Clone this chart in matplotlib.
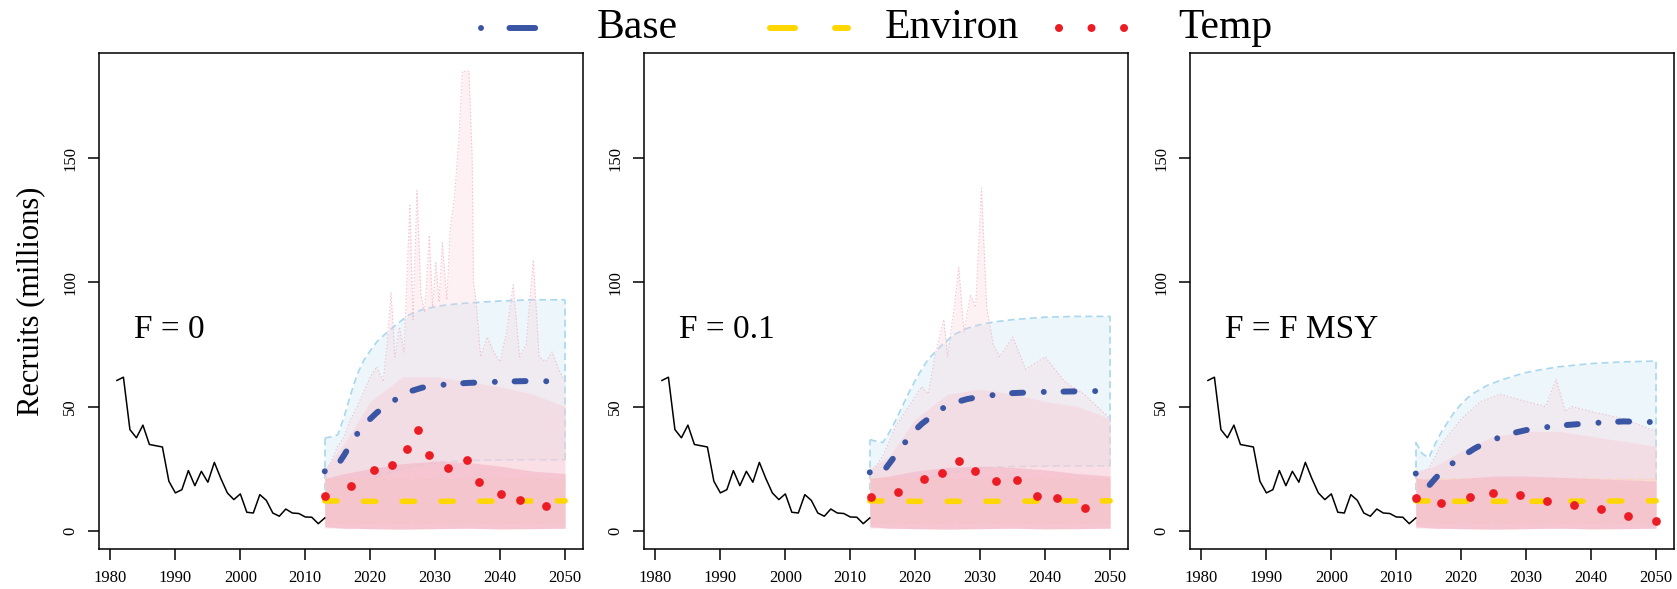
import matplotlib.pyplot as plt
from matplotlib.lines import Line2D

plt.rcParams['font.family'] = ['Liberation Serif', 'DejaVu Serif']
plt.rcParams['lines.scale_dashes'] = False

# --- historic recruitment (millions) ---
hist_years = list(range(1981, 2014))
hist_recruits = [60.5, 61.8, 40.7, 37.4, 42.5, 34.7, 34.2, 33.7, 19.9, 15.2,
                 16.5, 24.2, 18.1, 23.9, 19.5, 27.5, 21.0, 15.2, 12.5, 14.8,
                 7.4, 7.1, 14.5, 12.2, 7.1, 5.8, 8.7, 7.1, 6.9, 5.5,
                 5.4, 2.8, 5.1]

panel_labels = ["F = 0", "F = 0.1", "F = F MSY"]

# --- Base projection (mean and upper/lower band) ---
base_years = [2013, 2014, 2015, 2016, 2017, 2018, 2019, 2020, 2021, 2022,
              2024, 2026, 2028, 2030, 2032, 2035, 2040, 2045, 2050]
base_mean_f0 = [23.9, 24.5, 26.5, 30.5, 35.0, 39.0, 42.5, 45.0, 47.5, 49.5,
                53.0, 56.0, 57.6, 58.4, 59.0, 59.5, 60.0, 60.3, 60.0]
base_mean_f01 = [23.5, 22.5, 23.5, 27.0, 30.5, 34.0, 37.5, 40.5, 43.0, 45.0,
                 49.0, 51.5, 53.0, 54.0, 54.6, 55.4, 55.9, 56.1, 56.3]
base_mean_fmsy = [23.0, 19.5, 18.0, 21.0, 23.8, 26.0, 27.7, 29.5, 31.3, 33.0,
                  35.8, 37.6, 39.3, 40.5, 41.3, 42.3, 43.3, 44.0, 43.7]
base_hi_f0 = [37.3, 37.8, 38.6, 46.0, 55.0, 63.0, 68.5, 72.5, 76.0, 78.5,
              83.0, 87.0, 89.0, 90.2, 91.0, 91.7, 92.5, 93.0, 93.0]
base_hi_f01 = [36.7, 36.0, 35.5, 39.5, 44.5, 50.0, 55.5, 60.5, 65.0, 69.0,
               74.5, 79.0, 81.5, 83.0, 84.0, 85.0, 86.0, 86.3, 86.3]
base_hi_fmsy = [35.6, 31.0, 29.3, 35.0, 40.0, 44.0, 48.0, 51.0, 53.5, 55.5,
                58.5, 60.5, 62.2, 63.7, 64.7, 66.0, 67.3, 68.0, 68.3]
base_lo_f0 = [12.0, 12.5, 13.5, 15.0, 16.5, 18.0, 19.5, 20.5, 21.5, 22.5,
              24.0, 25.5, 26.5, 27.3, 27.8, 28.2, 28.5, 28.6, 28.5]
base_lo_f01 = [12.0, 12.0, 12.5, 14.0, 15.5, 17.0, 18.0, 19.0, 20.0, 21.0,
               22.5, 23.5, 24.5, 25.0, 25.5, 25.8, 26.0, 26.1, 26.1]
base_lo_fmsy = [12.0, 11.0, 10.5, 11.5, 12.5, 13.5, 14.5, 15.0, 15.8, 16.5,
                17.5, 18.2, 18.8, 19.2, 19.5, 19.8, 20.0, 20.2, 20.2]

# --- Environ projection ---
env_years = [2013, 2020, 2030, 2040, 2050]
env_mean = [12.0, 11.8, 11.8, 11.9, 12.0]
env_lo = [3.0, 3.2, 3.1, 3.0, 3.1]
env_hi = [20.6, 20.8, 20.5, 20.7, 20.6]

# --- Temp projection: mean (dots) ---
temp_years_f0 = [2013.1, 2017.0, 2020.6, 2023.3, 2025.6, 2027.3, 2029.0,
                 2031.9, 2034.9, 2036.7, 2040.2, 2043.0, 2047.1]
temp_mean_f0 = [13.8, 17.9, 24.6, 26.6, 32.9, 40.7, 30.6, 25.3, 28.6, 19.4,
                14.6, 12.5, 9.8]
temp_years_f01 = [2013.2, 2017.3, 2021.4, 2024.1, 2026.8, 2029.2, 2032.5,
                  2035.6, 2038.7, 2041.9, 2046.2]
temp_mean_f01 = [13.6, 15.5, 20.8, 23.2, 28.0, 24.2, 19.9, 20.2, 14.1, 13.2,
                 9.0]
temp_years_fmsy = [2013.1, 2016.9, 2021.3, 2024.9, 2029.0, 2033.2, 2037.3,
                   2041.5, 2045.7, 2050.0]
temp_mean_fmsy = [13.2, 11.2, 13.4, 15.2, 14.2, 12.1, 10.2, 8.9, 6.0, 4.0]

# --- Temp band: dense core and paler middle part ---
core_years = [2013, 2016, 2020, 2025, 2030, 2035, 2040, 2045, 2050]
core_lo = [1.5, 1.0, 0.8, 0.6, 0.8, 1.0, 0.7, 0.8, 1.0]
core_hi_f0 = [21.0, 23.0, 25.0, 27.0, 28.0, 27.5, 26.0, 24.0, 23.0]
core_hi_f01 = [21.0, 22.0, 24.0, 25.5, 26.0, 25.5, 24.5, 23.0, 22.0]
core_hi_fmsy = [21.0, 20.5, 21.0, 22.0, 22.0, 21.5, 21.0, 20.5, 20.0]
mid_hi_f0 = [25.0, 35.0, 52.0, 62.0, 62.0, 60.0, 58.0, 55.0, 50.0]
mid_hi_f01 = [25.0, 30.0, 45.0, 55.0, 57.0, 55.0, 52.0, 50.0, 45.0]
mid_hi_fmsy = [24.0, 26.0, 32.0, 38.0, 40.0, 40.0, 38.0, 36.0, 34.0]

# --- Temp simulations envelope (spiky) ---
spike_years_f0 = [2013, 2014, 2015, 2016, 2017, 2018, 2019, 2020, 2021, 2022,
                  2022.6, 2023.2, 2023.8, 2024.5, 2025.2, 2026.1, 2026.6,
                  2027.2, 2027.8, 2028.4, 2029.1, 2029.6, 2030.1, 2030.6,
                  2031.1, 2031.8, 2032.3, 2033.0, 2033.7, 2034.2, 2035.2,
                  2035.7, 2035.9, 2036.3, 2037, 2038, 2039, 2040, 2041, 2042,
                  2043, 2044, 2045.1, 2046, 2047, 2048, 2049, 2050]
spike_vals_f0 = [22, 28, 34, 38, 45, 50, 56, 62, 66, 60,
                 75, 96, 70, 82, 72, 131, 85,
                 137, 95, 88, 119, 90, 108, 92,
                 116, 93, 121, 135, 160, 185, 185,
                 150, 100, 92, 70, 78, 72, 68, 80, 99,
                 70, 75, 109, 70, 68, 72, 65, 60]
spike_years_f01 = [2013, 2015, 2017, 2019, 2021, 2022, 2023, 2024.4, 2025,
                   2026, 2026.7, 2027.5, 2028.5, 2029.3, 2030.2, 2031, 2032,
                   2033, 2035, 2037, 2040, 2043, 2046, 2050]
spike_vals_f01 = [22, 30, 42, 50, 58, 55, 70, 85, 70, 90, 106, 80, 95, 90,
                  138, 90, 75, 70, 78, 65, 70, 60, 55, 45]
spike_years_fmsy = [2013, 2015, 2017, 2020, 2023, 2026, 2030, 2033, 2034.6,
                    2036, 2037, 2040, 2045, 2050]
spike_vals_fmsy = [22, 25, 35, 45, 52, 55, 52, 50, 61, 48, 50, 48, 45, 40]

panels = [
    (base_mean_f0, base_hi_f0, base_lo_f0, temp_years_f0, temp_mean_f0,
     core_hi_f0, mid_hi_f0, spike_years_f0, spike_vals_f0),
    (base_mean_f01, base_hi_f01, base_lo_f01, temp_years_f01, temp_mean_f01,
     core_hi_f01, mid_hi_f01, spike_years_f01, spike_vals_f01),
    (base_mean_fmsy, base_hi_fmsy, base_lo_fmsy, temp_years_fmsy,
     temp_mean_fmsy, core_hi_fmsy, mid_hi_fmsy, spike_years_fmsy,
     spike_vals_fmsy),
]

# colours
base_col = '#3A55A4'
env_col = '#FFD700'
temp_col = '#EC1C24'
base_dash = (0, (0.01, 14.2, 7.9, 14.9))
env_dash = (0, (8.8, 19.1))

W, H = 1677, 589
fig = plt.figure(figsize=(W / 100, H / 100), dpi=100)
lefts = [99, 644, 1190]
axw = 484

for i, (bm, bh, bl, ty, tm, ch, mh, sy, sv) in enumerate(panels):
    ax = fig.add_axes([lefts[i] / W, 1 - 549 / H, axw / W, 496 / H])

    # Base band
    ax.fill_between(base_years, bl, bh, color='#ECF6FB', lw=0, zorder=1)
    ax.plot(base_years, bh, color='#A9D7EE', lw=1.2, ls=(0, (5, 3)), zorder=1.1)
    ax.plot(base_years, bl, color='#BCD8EA', lw=1.2, ls=(0, (5, 3)), zorder=1.1)
    ax.plot([base_years[0], base_years[0]], [bl[0], bh[0]], color='#A9D7EE',
            lw=1.2, ls=(0, (5, 3)), zorder=1.1)
    ax.plot([base_years[-1], base_years[-1]], [bl[-1], bh[-1]], color='#A9D7EE',
            lw=1.2, ls=(0, (5, 3)), zorder=1.1)

    # Environ band
    ax.fill_between(env_years, env_lo, env_hi, color='#FFF6D2', lw=0, zorder=1.2)
    ax.plot(env_years, env_hi, color='#FBE6A0', lw=1.2, ls=(0, (5, 3)), zorder=1.3)
    ax.plot(env_years, env_lo, color='#FBE6A0', lw=1.2, ls=(0, (5, 3)), zorder=1.3)

    # Temp simulations
    ax.fill_between(sy, 0.8, sv, color='#FBD2DD', alpha=0.3, lw=0, zorder=1.4)
    ax.plot(sy, sv, color='#F3B3C3', lw=0.8, ls=(0, (1, 1.5)), alpha=0.8, zorder=1.5)
    ax.fill_between(core_years, core_lo, mh, color='#F8CCD7', alpha=0.45,
                    lw=0, zorder=1.55)
    ax.fill_between(core_years, core_lo, ch, color='#F4BCCA', alpha=0.7,
                    lw=0, zorder=1.6)

    # historic
    ax.plot(hist_years, hist_recruits, color='black', lw=1.1, zorder=3)

    # means
    ax.plot(env_years, env_mean, color=env_col, lw=4.0, ls=env_dash,
            dash_capstyle='round', zorder=4)
    ax.plot(base_years, bm, color=base_col, lw=4.3, ls=base_dash,
            dash_capstyle='round', zorder=5)
    ax.plot(ty, tm, 'o', color=temp_col, ms=6.3, mec='none', zorder=6)

    ax.text(1983.7, 81, panel_labels[i], fontsize=24, va='center', ha='left')

    ax.set_xlim(1978.24, 2052.76)
    ax.set_ylim(-7.4, 192.4)
    ax.set_xticks([1980, 1990, 2000, 2010, 2020, 2030, 2040, 2050])
    ax.set_yticks([0, 50, 100, 150])
    ax.tick_params(length=8, width=1.1, labelsize=12, pad=7)
    for lab in ax.get_yticklabels():
        lab.set_rotation(90)
        lab.set_va('center')
    for sp in ax.spines.values():
        sp.set_linewidth(1.1)
    if i == 0:
        ax.set_ylabel("Recruits (millions)", fontsize=22, labelpad=12)

# --- legend drawn across the top ---
def fx(px):
    return px / W

ly = 1 - 28 / H
fig.add_artist(Line2D([fx(481), fx(538)], [ly, ly], color=base_col, lw=4.3,
                      ls=(0, (0.01, 20.5, 18.5, 20)), dash_capstyle='round',
                      transform=fig.transFigure))
fig.add_artist(Line2D([fx(770), fx(848)], [ly, ly], color=env_col, lw=4.3,
                      ls=(0, (18, 28.8)), dash_capstyle='round',
                      transform=fig.transFigure))
fig.add_artist(Line2D([fx(1059), fx(1125)], [ly, ly], color=temp_col, lw=5.8,
                      ls=(0, (0.01, 23.4)), dash_capstyle='round',
                      transform=fig.transFigure))
fig.text(fx(597), ly, "Base", fontsize=30, va='center', ha='left')
fig.text(fx(885), ly, "Environ", fontsize=30, va='center', ha='left')
fig.text(fx(1178), ly, "Temp", fontsize=30, va='center', ha='left')

fig.savefig("out.png", dpi=100)
